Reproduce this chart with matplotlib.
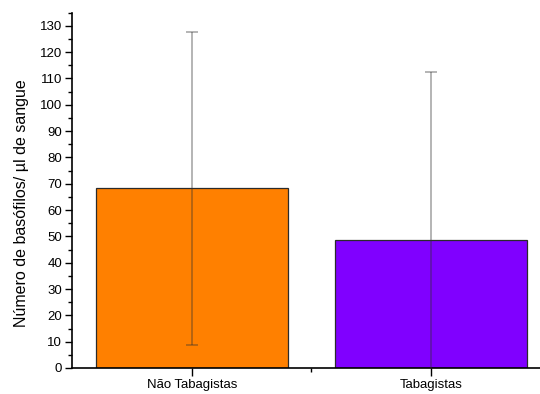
import matplotlib
matplotlib.use("Agg")
import matplotlib.pyplot as plt
from matplotlib.ticker import FixedLocator

plt.rcParams['font.family'] = ['Liberation Sans', 'DejaVu Sans']

categories = ["Não Tabagistas", "Tabagistas"]
means = [68.3, 48.8]
std_devs = [59.5, 63.7]
bar_colors = ["#FF8000", "#8000FF"]

fig = plt.figure(figsize=(5.4, 3.94), dpi=100)
ax = fig.add_axes([0.1333, 0.066, 0.887, 0.902])

positions = [1, 2]
ax.bar(positions, means, width=0.8, color=bar_colors, edgecolor="#2b2b2b",
       linewidth=0.9, zorder=2)
ax.errorbar(positions, means, yerr=std_devs, fmt="none", ecolor="#303030",
            alpha=0.42, elinewidth=1.2, capsize=4.5, capthick=1.2, zorder=3)

ax.set_xlim(0.5, 2.5)
ax.set_ylim(0, 135)

ax.yaxis.set_major_locator(FixedLocator(range(0, 131, 10)))
ax.yaxis.set_minor_locator(FixedLocator(range(5, 136, 10)))
ax.xaxis.set_major_locator(FixedLocator(positions))
ax.xaxis.set_minor_locator(FixedLocator([1.5]))
ax.set_xticklabels(categories, fontsize=9.5)
ax.tick_params(axis="y", which="major", direction="out", length=5, width=1,
               labelsize=9.5, pad=2)
ax.tick_params(axis="y", which="minor", direction="out", length=3, width=1)
ax.tick_params(axis="x", which="major", direction="out", length=6, width=1, pad=2)
ax.tick_params(axis="x", which="minor", direction="out", length=3, width=1)

for side in ("top", "right"):
    ax.spines[side].set_visible(False)
for side in ("left", "bottom"):
    ax.spines[side].set_linewidth(1.2)

ax.set_ylabel("Número de basófilos/ µl de sangue", fontsize=11.5)
ax.yaxis.set_label_coords(-0.09, 0.465)

fig.savefig("out.png", dpi=100)
